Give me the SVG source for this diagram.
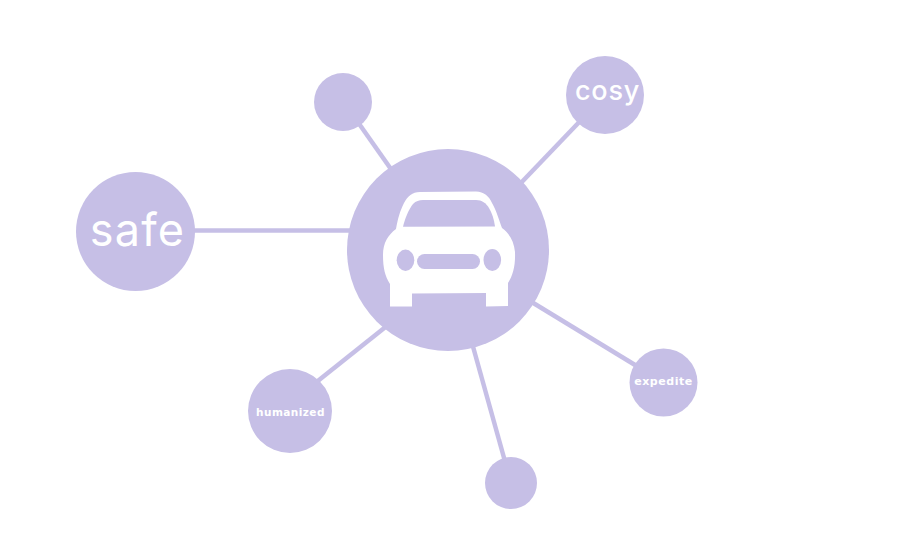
<svg xmlns="http://www.w3.org/2000/svg" width="916" height="543" viewBox="0 0 916 543">
<style>
.n{fill:#c6bfe6}
.c{stroke:#c6bfe6;stroke-width:4.500;fill:none}
.t{fill:#fff;text-anchor:middle}
.i{font-family:Inter,"Liberation Sans",sans-serif}
.d{font-family:"DejaVu Sans",sans-serif;font-weight:bold}
</style>
<rect width="916" height="543" fill="#fff"/>
<g id="connectors">
<line class="c" x1="190" y1="230.500" x2="355" y2="230.500"/>
<line class="c" x1="355" y1="118" x2="393" y2="172"/>
<line class="c" x1="585" y1="116" x2="518" y2="186"/>
<line class="c" x1="530" y1="301" x2="640" y2="368"/>
<line class="c" x1="472" y1="343" x2="506" y2="465"/>
<line class="c" x1="314" y1="384" x2="388" y2="325"/>
</g>
<g id="node-center">
<circle class="n" cx="448" cy="250" r="101"/>
<path fill="#fff" d="M396 229C398 218 400 211 404 203C408 196 412 192 420 192L476 191.500C484 192 489 196 492 203C497 212 499 220 502 228C509 233 514 241 515 252C515.500 266 513 275 508 283L508 306L486 306.500L486 293L412 293.500L412 306.500L390 306.500L390 284C385 276 383 268 383 255C383 243 388 235 396 229Z"/>
<path class="n" d="M403 226.700C405 218 409 209 413 204C416 201 419 200 423 200L476 200C482 200 486 203 489 208C492 213 494 219 495 226.500Z"/>
<ellipse class="n" cx="405.500" cy="260.300" rx="8.800" ry="10.700"/>
<ellipse class="n" cx="492.300" cy="260" rx="8.800" ry="11"/>
<rect class="n" x="417" y="254" width="63" height="15" rx="7.500"/>
</g>
<g id="node-safe">
<circle class="n" cx="135.500" cy="231.500" r="59.500"/>
<text class="t i" x="137.500" y="246" font-size="45" letter-spacing="1.200">safe</text>
</g>
<g id="node-top">
<circle class="n" cx="343" cy="102" r="29"/>
</g>
<g id="node-cosy">
<circle class="n" cx="605" cy="95" r="39"/>
<text class="t i" x="607.500" y="100" font-size="27" font-weight="500" letter-spacing="0.800">cosy</text>
</g>
<g id="node-expedite">
<circle class="n" cx="663.500" cy="382.500" r="34"/>
<text class="t d" x="663.500" y="385" font-size="11" letter-spacing="0.550">expedite</text>
</g>
<g id="node-humanized">
<circle class="n" cx="290" cy="411" r="42"/>
<text class="t d" x="290.500" y="415.500" font-size="10.500" letter-spacing="0.450">humanized</text>
</g>
<g id="node-bottom">
<circle class="n" cx="511" cy="483" r="26"/>
</g>
</svg>
